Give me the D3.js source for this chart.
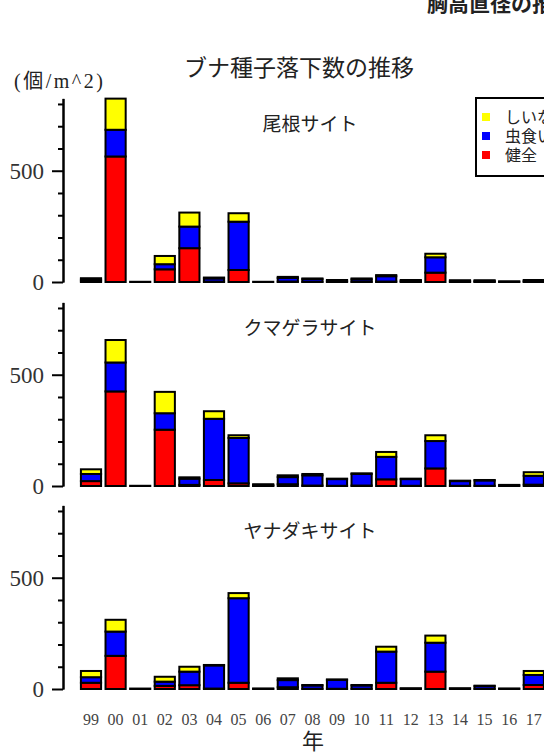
<!DOCTYPE html>
<html>
<head>
<meta charset="utf-8">
<script src="https://cdn.jsdelivr.net/npm/d3@7"></script>
<style>
  body { margin: 0; background: #fff; }
  svg { display: block; }
  text { font-family: "Liberation Serif", "Noto Sans CJK JP", serif; fill: #222; }
</style>
</head>
<body>
<script>
// years on the x axis
var years = ["99","00","01","02","03","04","05","06","07","08","09","10","11","12","13","14","15","16","17"];
var keys = ["healthy", "insect", "empty"];
var keyLabels = ["健全", "虫食い", "しいな"];
var colors = {healthy: "#ff0000", insect: "#0000ff", empty: "#ffff00"};
var yTicksMajor = [0, 500];
var yTicksMinor = [100, 200, 300, 400, 600, 700, 800];

// 尾根サイト
var oneHealthy = [3,564,0,57,152,2,54,0,2,1,1,1,2,1,42,1,1,0,1];
var oneInsect  = [8,120,0,23,97,14,217,0,16,12,4,11,24,4,69,3,3,1,4];
var oneEmpty   = [6,140,1,37,63,4,38,1,5,3,4,4,5,4,16,4,4,2,4];
// クマゲラサイト
var kumaHealthy = [22,425,0,253,5,27,12,1,8,2,1,2,30,1,79,1,1,0,6];
var kumaInsect  = [32,130,0,74,28,275,204,3,32,46,30,52,101,30,123,21,24,2,40];
var kumaEmpty   = [21,101,1,96,6,34,12,4,8,6,2,3,22,2,26,2,2,3,16];
// ヤナダキサイト
var yanaHealthy = [28,149,0,14,17,2,28,0,8,1,1,1,28,0,78,0,1,0,18];
var yanaInsect  = [25,109,0,19,61,104,380,1,32,15,40,15,140,2,130,2,12,1,45];
var yanaEmpty   = [28,53,2,22,22,2,23,1,8,2,2,2,22,1,32,1,2,1,18];

var sites = [
  {name: "尾根サイト", healthy: oneHealthy, insect: oneInsect, empty: oneEmpty, zero: 282},
  {name: "クマゲラサイト", healthy: kumaHealthy, insect: kumaInsect, empty: kumaEmpty, zero: 486},
  {name: "ヤナダキサイト", healthy: yanaHealthy, insect: yanaInsect, empty: yanaEmpty, zero: 689}
];

var W = 544, H = 754;
var svg = d3.select("body").append("svg").attr("width", W).attr("height", H);

var x = d3.scaleBand().domain(years).range([78.7, 546.1])
  .paddingInner(0.18).paddingOuter(0.09);
var axisX = 63;
var panelH = 183.6;

// titles
svg.append("text").attr("x", 427).attr("y", 11)
  .style("font-size", "21px").style("font-weight", "bold").text("胸高直径の推移");
svg.append("text").attr("x", 299).attr("y", 76).attr("text-anchor", "middle")
  .style("font-size", "23px").text("ブナ種子落下数の推移");
svg.append("text").attr("x", 14).attr("y", 88)
  .style("font-size", "20px").style("letter-spacing", "2.5px").text("(個/m^2)");

var stack = d3.stack().keys(keys);

sites.forEach(function(site){
  var y = d3.scaleLinear().domain([0, 825]).range([site.zero, site.zero - panelH]);
  var rows = years.map(function(yr, i){
    return {year: yr, healthy: site.healthy[i], insect: site.insect[i], empty: site.empty[i]};
  });
  var series = stack(rows);

  var g = svg.append("g");
  g.selectAll("g.layer").data(series).enter().append("g")
    .attr("class", "layer")
    .style("fill", function(d){ return colors[d.key]; })
    .selectAll("rect").data(function(d){ return d; }).enter().append("rect")
      .attr("x", function(d){ return x(d.data.year); })
      .attr("width", x.bandwidth())
      .attr("y", function(d){ return y(d[1]); })
      .attr("height", function(d){ return y(d[0]) - y(d[1]); })
      .style("stroke", "black")
      .style("stroke-width", 2);

  // y axis: major ticks with labels, minor ticks without
  var ax = g.append("g").attr("transform", "translate(" + axisX + ",0)")
    .call(d3.axisLeft(y).tickValues(yTicksMajor).tickSize(11).tickSizeOuter(0).tickPadding(8));
  var axMinor = g.append("g").attr("transform", "translate(" + axisX + ",0)")
    .call(d3.axisLeft(y).tickValues(yTicksMinor).tickSize(5).tickSizeOuter(0).tickFormat(""));
  [ax, axMinor].forEach(function(a){
    a.select(".domain").style("stroke", "black").style("stroke-width", 2);
    a.selectAll(".tick line").style("stroke", "black").style("stroke-width", 2);
  });
  ax.selectAll(".tick text")
    .style("font-family", "Liberation Serif, serif")
    .style("font-size", "23px").style("fill", "#333");

  g.append("text").attr("x", 310).attr("y", site.zero - panelH + 33)
    .attr("text-anchor", "middle").style("font-size", "19px").text(site.name);
});

// x labels under the bottom panel
svg.append("g").selectAll("text").data(years).enter().append("text")
  .attr("x", function(d){ return x(d) + x.bandwidth() / 2; })
  .attr("y", 725).attr("text-anchor", "middle")
  .style("font-size", "16px").style("fill", "#444")
  .text(function(d){ return d; });
svg.append("text").attr("x", 313).attr("y", 749).attr("text-anchor", "middle")
  .style("font-size", "22px").text("年");

// legend (top item first: しいな, 虫食い, 健全)
var leg = svg.append("g").attr("transform", "translate(476,98)");
leg.append("rect").attr("width", 120).attr("height", 78)
  .style("fill", "white").style("stroke", "black").style("stroke-width", 2);
var legKeys = keys.slice().reverse();
var legLabels = keyLabels.slice().reverse();
legKeys.forEach(function(k, i){
  leg.append("rect").attr("x", 6).attr("y", 15 + i * 19).attr("width", 8).attr("height", 8)
    .style("fill", colors[k]);
  leg.append("text").attr("x", 29).attr("y", 25 + i * 19)
    .style("font-size", "16px").text(legLabels[i]);
});
</script>
</body>
</html>
